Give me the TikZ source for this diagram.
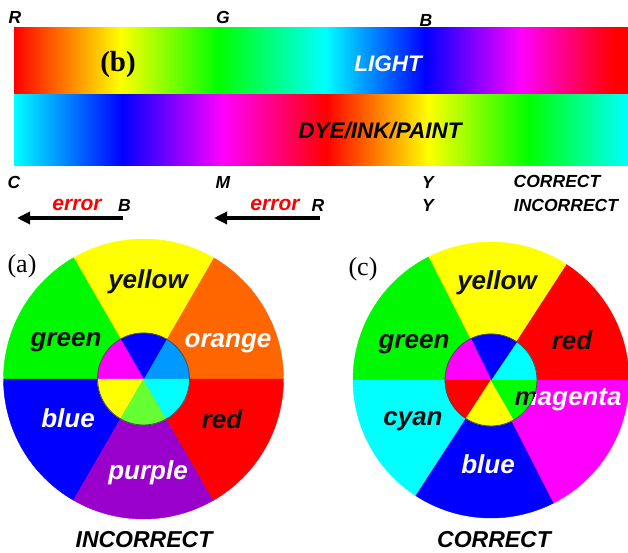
\documentclass[tikz,border=0pt]{standalone}
\usepackage{fontspec}
\usetikzlibrary{arrows.meta}
\newfontfamily\labfont{Liberation Sans}
\newfontfamily\romfont{Liberation Serif}
\definecolor{pureGreen}{HTML}{00FF00}
\definecolor{pureCyan}{HTML}{00FFFF}
\definecolor{pureMag}{HTML}{FF00FF}
\definecolor{pureYel}{HTML}{FFFF00}
\definecolor{pureBlue}{HTML}{0000FF}
\definecolor{pureRed}{HTML}{FF0000}
\definecolor{wOrange}{HTML}{FF6600}
\definecolor{wPurple}{HTML}{9900CC}
\definecolor{wGreen}{HTML}{00F800}
\definecolor{skyBlue}{HTML}{0099FF}
\definecolor{limeGreen}{HTML}{66FF33}
\definecolor{ink}{HTML}{111111}
\tikzset{
  wheellbl/.style={font=\labfont\bfseries\itshape\fontsize{26}{26}\selectfont, inner sep=0pt, anchor=base, text=ink},
  captionlbl/.style={font=\labfont\bfseries\itshape\fontsize{23}{23}\selectfont, inner sep=0pt, anchor=base},
  barlbl/.style={font=\labfont\bfseries\itshape\fontsize{22.5}{22.5}\selectfont, inner sep=0pt},
  keylbl/.style={font=\labfont\bfseries\itshape\fontsize{17.5}{17.5}\selectfont, inner sep=0pt},
  errlbl/.style={font=\labfont\bfseries\itshape\fontsize{21}{21}\selectfont, inner sep=0pt, text=pureRed},
  panellbl/.style={font=\romfont\fontsize{26}{26}\selectfont, inner sep=0pt},
  errarrow/.style={line width=3.2pt, -{Triangle[length=13pt,width=12pt]}},
  hub/.style={draw=black!70, line width=0.8pt}
}
\begin{document}
\begin{tikzpicture}[x=1pt,y=1pt]
\useasboundingbox (0,0) rectangle (628,552);
\fill[white] (0,0) rectangle (628,552);

% additive spectrum bar (light)
\foreach \xa/\xb/\ca/\cb in {14/120/pureRed/pureYel, 120/218/pureYel/pureGreen,
    218/325/pureGreen/pureCyan, 325/425/pureCyan/pureBlue,
    425/520/pureBlue/pureMag, 520/613/pureMag/pureRed, 613/628/pureRed/pureRed}
  \shade[left color=\ca, right color=\cb] (\xa,457) rectangle (\xb+0.6,524);

% subtractive spectrum bar (dye / ink / paint)
\foreach \xa/\xb/\ca/\cb in {14/122/pureCyan/pureBlue, 122/222/pureBlue/pureMag,
    222/326/pureMag/pureRed, 326/428/pureRed/pureYel,
    428/528/pureYel/pureGreen, 528/628/pureGreen/pureCyan}
  \shade[left color=\ca, right color=\cb] (\xa,386) rectangle (\xb+0.6,457.6);

\node[keylbl] (tR) at (15,535) {R};
\node[keylbl] (tG) at (223,534.5) {G};
\node[keylbl] (tB) at (426,532) {B};
\node[font=\romfont\bfseries\fontsize{29}{29}\selectfont, inner sep=0pt] (panelb) at (118,487) {(b)};
\node[barlbl, text=white] (light) at (388,488.5) {LIGHT};
\node[barlbl] (dye) at (380,421) {DYE/INK/PAINT};

% key below the bars
\node[keylbl] (kC) at (14,370) {C};
\node[keylbl] (kM) at (223,370) {M};
\node[keylbl] (kY1) at (428,370) {Y};
\node[keylbl] (kcorrect) at (557,370.5) {CORRECT};
\node[errlbl] (err1) at (77,347) {error};
\node[keylbl] (kB) at (124.5,346.5) {B};
\node[errlbl] (err2) at (275,347) {error};
\node[keylbl] (kR) at (318,346.5) {R};
\node[keylbl] (kY2) at (428,346.5) {Y};
\node[keylbl] (kincorrect) at (566,346.5) {INCORRECT};
\coordinate (a1s) at (123,334);
\coordinate (a1e) at (17,334);
\coordinate (a2s) at (320,334);
\coordinate (a2e) at (214,334);
\draw[errarrow] (a1s) -- (a1e);
\draw[errarrow] (a2s) -- (a2e);

% wheel (a)
\coordinate (wa) at (143.5,173);
\foreach \a/\c in {0/wOrange, 60/pureYel, 120/wGreen, 180/pureBlue, 240/wPurple, 300/pureRed}
  \filldraw[fill=\c, draw=\c, line width=0.4pt] (wa) -- ++(\a:140) arc[start angle=\a, delta angle=60, radius=140] -- cycle;
\foreach \a/\c in {0/skyBlue, 60/pureBlue, 120/pureMag, 180/pureYel, 240/limeGreen, 300/pureCyan}
  \filldraw[fill=\c, draw=\c, line width=0.4pt] (wa) -- ++(\a:46) arc[start angle=\a, delta angle=60, radius=46] -- cycle;
\draw[hub] (wa) circle[radius=46];

\node[panellbl] (panela) at (22,286) {(a)};
\node[wheellbl] (ayellow) at (148,264) {yellow};
\node[wheellbl] (agreen) at (66,206) {green};
\node[wheellbl, text=white] (aorange) at (228,205) {orange};
\node[wheellbl, text=white] (ablue) at (68,125) {blue};
\node[wheellbl] (ared) at (222,124) {red};
\node[wheellbl, text=white] (apurple) at (148,73) {purple};
\node[captionlbl] (incorrect) at (144,5) {INCORRECT};

% wheel (c)
\coordinate (wc) at (491,172);
\foreach \a/\b/\c in {0/57/pureRed, 57/117/pureYel, 117/180/wGreen, 180/237/pureCyan, 237/297/pureBlue, 297/360/pureMag}
  \filldraw[fill=\c, draw=\c, line width=0.4pt] (wc) -- ++(\a:138) arc[start angle=\a, end angle=\b, radius=138] -- cycle;
\foreach \a/\b/\c in {0/56/pureCyan, 56/116/pureBlue, 116/180/pureMag, 180/237/pureRed, 237/300/pureYel, 300/360/pureGreen}
  \filldraw[fill=\c, draw=\c, line width=0.4pt] (wc) -- ++(\a:46) arc[start angle=\a, end angle=\b, radius=46] -- cycle;
\draw[hub] (wc) circle[radius=46];

\node[panellbl] (panelc) at (363,283) {(c)};
\node[wheellbl] (cyellow) at (497,263) {yellow};
\node[wheellbl] (cgreen) at (414,204) {green};
\node[wheellbl] (cred) at (572,203) {red};
\node[wheellbl] (ccyan) at (413,127) {cyan};
\node[wheellbl, text=white] (cmagenta) at (568,147) {magenta};
\begin{scope}
  \clip (wc) circle[radius=46];
  \node[wheellbl] (cmagentahub) at (568,147) {magenta};
\end{scope}
\node[wheellbl, text=white] (cblue) at (488,79) {blue};
\node[captionlbl] (correct) at (494,5) {CORRECT};
\end{tikzpicture}
\end{document}
